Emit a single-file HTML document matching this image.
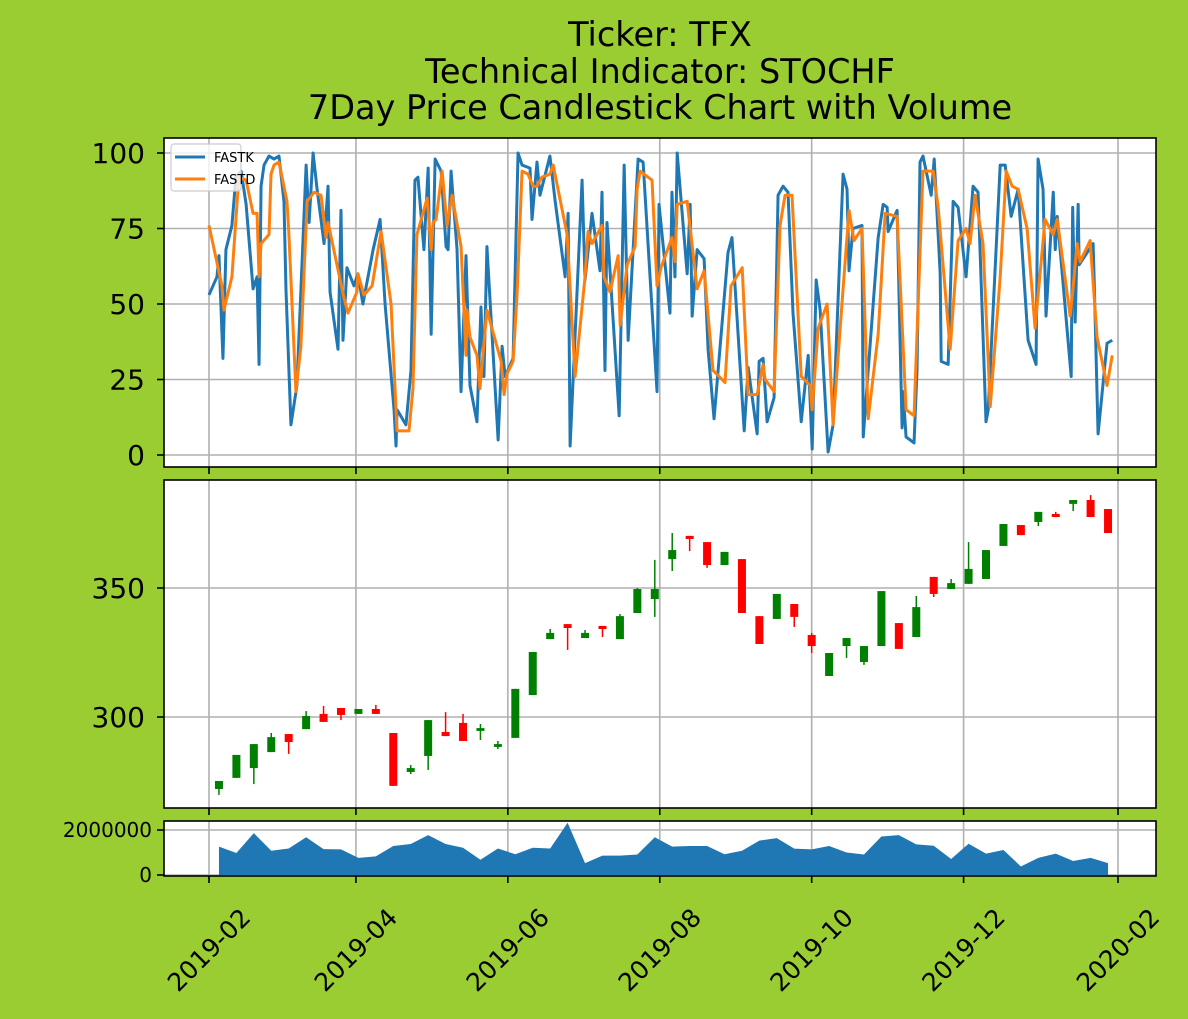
<!DOCTYPE html>
<html><head><meta charset="utf-8"><style>
body{margin:0;background:#9acd32;}
svg{display:block;font-family:"DejaVu Sans","Liberation Sans",sans-serif;}
</style></head><body>
<svg id="chart" width="1188" height="1019" viewBox="0 0 1188 1019" xmlns="http://www.w3.org/2000/svg">
<rect x="0" y="0" width="1188" height="1019" fill="#9acd32"/>
<g font-family="DejaVu Sans, Liberation Sans, sans-serif" font-size="33.5" text-anchor="middle" fill="#000">
<text x="660" y="46">Ticker: TFX</text>
<text x="660" y="83">Technical Indicator: STOCHF</text>
<text x="660" y="119">7Day Price Candlestick Chart with Volume</text>
</g>
<g id="g"></g>
</svg>
<script>
// ---- data ----
const kDays=[0,3.2,4.0,5.6,6.8,9.2,10.8,12.9,14.9,17.7,19.3,20.1,20.9,22.1,24.1,26.1,28.1,30.1,30.9,32.9,35.3,39.0,40.2,41.8,43.4,46.2,47.8,48.6,51.8,53.0,53.8,55.4,58.2,59.8,61.8,65.9,68.7,70.7,74.3,75.1,75.5,79.1,81.1,82.7,83.9,86.3,88.0,89.2,90.8,93.2,95.2,96.0,97.2,99.6,101.2,103.2,104.8,107.6,109.2,110.4,111.6,116.1,117.7,118.9,122.1,124.1,125.7,128.9,129.7,131.7,132.9,136.9,139.0,143.0,144.2,145.0,149.8,151.0,153.8,157.0,157.8,159.0,159.8,164.7,166.7,168.3,172.3,174.3,179.9,180.7,185.1,185.9,187.1,188.0,192.0,193.2,194.0,196.0,198.8,200.4,202.8,208.4,210.0,214.9,216.5,220.1,220.9,222.5,224.1,226.9,228.5,230.5,232.5,234.5,237.8,240.6,242.2,243.8,245.4,248.6,250.6,254.6,256.2,257.0,258.6,262.2,262.7,268.7,270.7,272.3,272.7,276.3,278.3,278.7,279.9,283.1,284.3,285.5,286.7,290.0,291.2,293.6,294.0,296.8,298.8,300.8,304.0,306.8,308.8,312.0,312.9,317.7,319.7,322.1,324.9,328.9,332.1,332.9,334.9,336.1,339.0,339.8,340.6,346.2,346.8,347.8,349.0,349.4,355.0,355.4,357.0,360.6,362.7];
const fastK=[53,59,66,32,68,76,92,94,83,55,59,30,89,96,99,98,99,84,55,10,23,96,77,100,88,70,89,54,35,81,38,62,56,60,50,68,78,50,15,3,15,10,28,91,92,68,95,40,98,94,69,68,94,68,21,66,23,11,49,26,69,5,36,26,32,100,96,95,78,97,86,99,84,59,80,3,91,58,80,61,87,28,77,13,96,38,98,97,21,83,47,87,59,100,60,83,46,68,65,35,12,67,72,8,29,7,31,32,11,19,86,89,87,47,11,33,2,58,48,1,10,93,88,61,75,76,6,72,83,82,74,81,9,21,6,4,28,97,99,86,98,60,31,30,84,82,59,89,87,11,15,96,96,79,88,38,30,98,88,46,87,68,79,26,82,44,83,63,70,59,7,37,38];
const dDays=[0,5.2,6.0,9.2,10.8,12.0,14.9,17.7,19.3,20.1,20.9,24.1,24.9,26.1,28.1,31.3,32.1,34.9,36.9,39.4,42.2,45.0,47.0,47.8,54.2,55.8,59.4,59.8,62.2,65.5,69.1,73.1,75.5,80.3,81.9,83.5,87.6,89.2,90.0,91.2,93.6,95.6,97.6,101.2,103.2,103.6,104.8,107.6,108.8,111.6,117.3,118.5,119.7,122.1,123.7,125.7,128.1,130.1,131.7,133.7,136.9,138.2,143.8,147.0,151.0,152.2,153.8,157.8,158.6,161.0,164.3,165.1,167.9,171.1,171.9,173.1,177.9,179.9,181.5,185.9,187.1,188.0,192.0,196.0,198.8,202.4,207.2,209.6,214.1,216.5,220.1,222.5,223.3,226.9,229.3,231.3,234.1,237.8,241.4,242.2,244.6,248.2,250.6,254.6,257.0,259.0,262.2,264.7,268.7,271.5,276.3,279.9,283.1,286.7,290.8,292.8,297.6,300.8,304.0,305.6,307.6,310.8,313.7,317.7,320.1,322.5,324.9,328.5,331.7,335.7,339.0,340.6,345.8,346.8,348.6,349.8,353.8,356.6,360.6,362.7];
const fastD=[76,56,48,59,78,92,91,80,80,59,70,73,93,96,97,84,73,21,36,84,87,86,72,77,52,47,54,60,53,56,74,50,8,8,22,73,85,68,77,78,94,76,86,69,33,48,39,33,22,48,31,20,27,31,53,94,93,89,89,92,93,96,73,26,59,74,70,76,59,54,66,43,63,69,88,94,91,56,62,72,64,83,84,55,61,28,24,56,62,20,20,30,25,21,76,86,86,26,23,15,42,50,10,55,81,71,75,12,40,80,79,15,13,94,94,82,35,71,75,70,86,70,16,59,94,89,88,75,42,78,73,78,46,54,70,64,71,39,23,33];
const candleDays=[4,11,18,25,32,39,46,53,60,67,74,81,88,95,102,109,116,123,130,137,144,151,158,165,172,179,186,193,200,207,214,221,228,235,242,249,256,263,270,277,284,291,298,305,312,319,326,333,340,347,354,361];
const opens=[272.1,276.4,280.2,286.4,293.4,295.3,301.2,303.5,301.2,303.1,293.8,278.7,284.9,294.2,297.7,294.6,288.4,291.9,308.5,330.2,336.0,330.6,335.3,330.2,340.3,345.7,361.2,370.2,367.8,358.9,361.2,339.1,338.0,343.8,331.8,315.9,327.5,321.3,327.5,336.4,331.0,354.3,349.6,351.6,353.5,366.3,374.4,375.6,378.7,382.6,384.1,380.6];
const highs=[275.2,285.3,289.5,293.8,293.4,302.3,304.3,303.5,303.1,304.7,293.8,281.4,298.8,301.9,301.2,297.3,290.7,310.9,325.2,334.1,336.0,333.7,335.3,339.9,350.0,360.9,371.3,370.2,367.8,364.0,361.2,339.1,347.7,343.8,332.6,324.8,330.6,327.5,348.8,336.4,346.9,354.3,353.5,367.8,364.7,374.8,374.4,379.5,379.5,384.1,386.0,380.6];
const lows=[269.8,276.4,274.0,286.4,285.7,295.3,298.1,298.8,301.2,301.2,273.3,277.9,279.5,292.6,290.7,291.1,287.6,291.9,308.5,330.2,326.0,330.6,331.0,330.2,340.3,338.8,356.6,364.3,357.8,358.9,340.3,328.3,338.0,334.9,324.8,315.9,322.9,320.2,327.5,326.4,331.0,346.5,349.6,351.6,353.5,366.3,370.5,374.0,377.5,379.8,377.5,371.3];
const closes=[275.2,285.3,289.5,292.2,290.3,300.4,298.1,300.8,303.1,301.2,273.3,280.2,298.8,292.6,290.7,295.7,289.5,310.9,325.2,332.6,334.5,332.6,334.1,339.1,349.6,349.6,364.7,369.0,358.9,364.0,340.3,328.3,347.7,338.8,327.5,324.8,330.6,327.5,348.8,326.4,342.6,347.7,351.9,357.4,364.7,374.8,370.5,379.5,377.5,384.1,377.5,371.3];
const volumes=[1260000,980000,1860000,1080000,1180000,1680000,1150000,1140000,760000,830000,1290000,1380000,1770000,1380000,1210000,680000,1180000,920000,1210000,1180000,2320000,530000,860000,860000,910000,1680000,1260000,1290000,1290000,920000,1080000,1530000,1640000,1170000,1140000,1290000,1000000,910000,1710000,1770000,1360000,1300000,710000,1390000,950000,1110000,380000,760000,950000,620000,760000,530000];
const xTickDays=[0,59,120,181,242,303,365];
const xTickLabels=["2019-02","2019-04","2019-06","2019-08","2019-10","2019-12","2020-02"];
const oscTicks=[0,25,50,75,100];
const priceTicks=[300,350];
const volTicks=[0,2000000];

// ---- scales ----
const X0=164,X1=1156;
const xs=d=>209+d*(1118-209)/365;
const P1={top:138,bot:467}, P2={top:480,bot:808}, P3={top:821,bot:876};
const yOsc=v=>455-v*3.02;
const yPrice=v=>717-(v-300)*2.58;
const yVol=v=>875-v/2000000*45;

const NS="http://www.w3.org/2000/svg";
const g=document.getElementById('g');
function mk(tag,attrs,parent){const e=document.createElementNS(NS,tag);for(const k in attrs)e.setAttribute(k,attrs[k]);(parent||g).appendChild(e);return e;}

function panel(P,name){
  const r=mk('rect',{x:X0,y:P.top,width:X1-X0,height:P.bot-P.top,fill:'#fff'});
  
  
}
function grid(P,yticks,ys){
  xTickDays.forEach(d=>{const x=xs(d);if(x<=X1){const l=mk('line',{x1:x,x2:x,y1:P.top,y2:P.bot,stroke:'#b0b0b0','stroke-width':1.6});
    
    }});
  yticks.forEach(v=>{const y=ys(v);const l=mk('line',{x1:X0,x2:X1,y1:y,y2:y,stroke:'#b0b0b0','stroke-width':1.6});
    
    });
}
function frame(P,yticks,ys,labels,fs,gap){
  const r=mk('rect',{x:X0,y:P.top,width:X1-X0,height:P.bot-P.top,fill:'none',stroke:'#000','stroke-width':1.6});
  
  
  yticks.forEach((v,i)=>{const y=ys(v);
    const t=mk('line',{x1:X0-7,x2:X0,y1:y,y2:y,stroke:'#000','stroke-width':1.6});
    
    
    const tx=mk('text',{x:X0-gap,y:y+fs*0.36,'text-anchor':'end','font-size':fs,'font-family':'DejaVu Sans, Liberation Sans, sans-serif'});
    tx.textContent=labels[i];
    
    });
  xTickDays.forEach(d=>{const x=xs(d);
    const t=mk('line',{x1:x,x2:x,y1:P.bot,y2:P.bot+7,stroke:'#000','stroke-width':1.6});
    
    });
}

// Top panel
panel(P1,'oscillator-panel');
grid(P1,oscTicks,yOsc);
const kp=mk('polyline',{points:kDays.map((d,i)=>xs(d)+','+yOsc(fastK[i])).join(' '),fill:'none',stroke:'#1f77b4','stroke-width':3,'stroke-linejoin':'round'});


const dp=mk('polyline',{points:dDays.map((d,i)=>xs(d)+','+yOsc(fastD[i])).join(' '),fill:'none',stroke:'#ff7f0e','stroke-width':3,'stroke-linejoin':'round'});


frame(P1,oscTicks,yOsc,oscTicks.map(String),28,19);
// legend
const lg=mk('g',{});


mk('rect',{x:171,y:144,width:70,height:47,rx:3,fill:'#fff','fill-opacity':0.8,stroke:'#ccc','stroke-width':1.2},lg);
mk('line',{x1:175,x2:205,y1:157,y2:157,stroke:'#1f77b4','stroke-width':3},lg);
mk('line',{x1:175,x2:205,y1:179,y2:179,stroke:'#ff7f0e','stroke-width':3},lg);
const l1=mk('text',{x:214,y:162,'font-size':13},lg);l1.textContent='FASTK';


const l2=mk('text',{x:214,y:184,'font-size':13},lg);l2.textContent='FASTD';



// Middle panel
panel(P2,'price-panel');
grid(P2,priceTicks,yPrice);
candleDays.forEach((d,i)=>{
  const x=xs(d),o=opens[i],c=closes[i],col=c>=o?'#008000':'#ff0000';
  const w=mk('line',{x1:x,x2:x,y1:yPrice(highs[i]),y2:yPrice(lows[i]),stroke:col,'stroke-width':1.5});
  
  
  const yt=yPrice(Math.max(o,c)),yb=yPrice(Math.min(o,c));
  const b=mk('rect',{x:x-4,y:yt,width:8,height:Math.max(1.5,yb-yt),fill:col});
  
  
});
frame(P2,priceTicks,yPrice,priceTicks.map(String),28,19);

// Bottom panel
panel(P3,'volume-panel');
grid(P3,volTicks,yVol);
let pts=xs(candleDays[0])+','+yVol(0)+' '+candleDays.map((d,i)=>xs(d)+','+yVol(volumes[i])).join(' ')+' '+xs(candleDays[candleDays.length-1])+','+yVol(0);
const va=mk('polygon',{points:pts,fill:'#1f77b4'});


frame(P3,volTicks,yVol,volTicks.map(String),20,12);
xTickDays.forEach((d,i)=>{const x=xs(d);
  const cy=950;
  const t=mk('text',{x:x,y:cy,'text-anchor':'middle','dominant-baseline':'central','font-size':25,'font-family':'DejaVu Sans, Liberation Sans, sans-serif',transform:`rotate(-45 ${x} ${cy})`});
  t.textContent=xTickLabels[i];
  
  
});
</script>
</body></html>
